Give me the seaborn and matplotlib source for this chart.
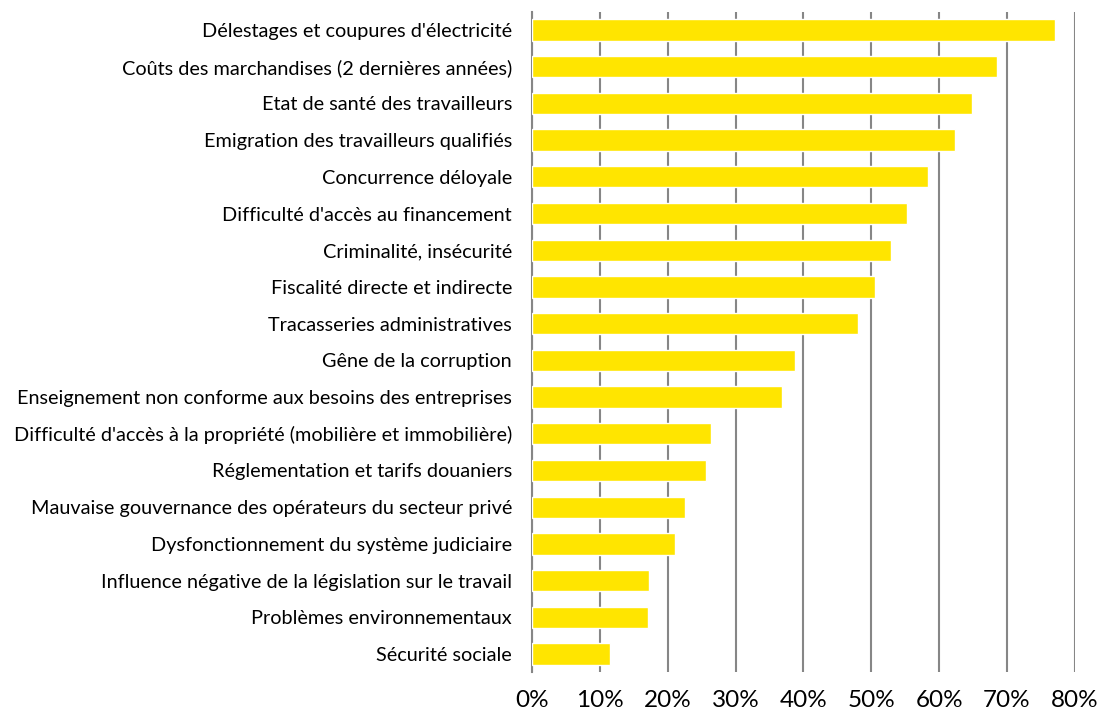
import matplotlib
matplotlib.use("Agg")
import matplotlib.pyplot as plt
import seaborn as sns
import pandas as pd
from matplotlib.ticker import PercentFormatter

# Obstacles cited by firms (share of respondents, %)
categories = [
    "Délestages et coupures d'électricité",
    "Coûts des marchandises (2 dernières années)",
    "Etat de santé des travailleurs",
    "Emigration des travailleurs qualifiés",
    "Concurrence déloyale",
    "Difficulté d'accès au financement",
    "Criminalité, insécurité",
    "Fiscalité directe et indirecte",
    "Tracasseries administratives",
    "Gêne de la corruption",
    "Enseignement non conforme aux besoins des entreprises",
    "Difficulté d'accès à la propriété (mobilière et immobilière)",
    "Réglementation et tarifs douaniers",
    "Mauvaise gouvernance des opérateurs du secteur privé",
    "Dysfonctionnement du système judiciaire",
    "Influence négative de la législation sur le travail",
    "Problèmes environnementaux",
    "Sécurité sociale",
]
values = [77.1, 68.5, 64.8, 62.3, 58.3, 55.2, 52.9, 50.5, 48.0,
          38.7, 36.9, 26.4, 25.6, 22.5, 21.1, 17.3, 17.1, 11.5]
tick_values = [0, 10, 20, 30, 40, 50, 60, 70, 80]

df = pd.DataFrame({"categorie": categories, "part": values})

sns.set_style("white")
plt.rcParams["font.family"] = ["Lato", "DejaVu Sans"]

fig = plt.figure(figsize=(10.99, 7.15), dpi=100)
ax = fig.add_axes([0.484, 0.0596, 0.494, 0.9241])

sns.barplot(data=df, x="part", y="categorie", orient="h",
            color="#FFE500", saturation=1, width=0.58, ax=ax, zorder=3)

ax.set_xlim(0, 80)
ax.set_xticks(tick_values)
ax.xaxis.set_major_formatter(PercentFormatter(decimals=0))
ax.set_ylim(len(categories) - 0.5, -0.5)

ax.grid(axis="x", color="#868686", linewidth=1.5, zorder=0)
ax.grid(axis="y", visible=False)
ax.set_axisbelow(True)

for side in ["top", "right", "bottom"]:
    ax.spines[side].set_visible(False)
ax.spines["left"].set_color("#868686")
ax.spines["left"].set_linewidth(1.5)

ax.set_xlabel("")
ax.set_ylabel("")
ax.tick_params(axis="x", length=0, pad=13, labelsize=17.5, labelcolor="#000000")
ax.tick_params(axis="y", length=0, pad=14.4, labelsize=14.3, labelcolor="#000000")

fig.savefig("out.png", dpi=100)
